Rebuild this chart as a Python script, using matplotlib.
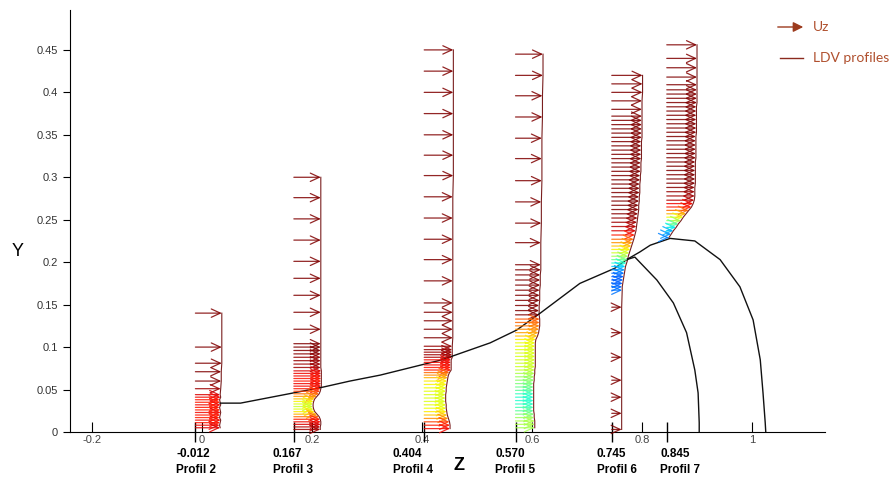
import matplotlib
matplotlib.use('Agg')
import numpy as np
import matplotlib.pyplot as plt
import matplotlib.transforms as mtransforms

plt.rcParams['font.family'] = ['Liberation Sans', 'DejaVu Sans']

# profile positions along Z
profile_z = [-0.012, 0.167, 0.404, 0.570, 0.745, 0.845]
profile_values = ['-0.012', '0.167', '0.404', '0.570', '0.745', '0.845']
profile_names = ['Profil 2', 'Profil 3', 'Profil 4', 'Profil 5', 'Profil 6', 'Profil 7']
label_left = [-0.047, 0.129, 0.347, 0.533, 0.718, 0.833]

# Profil 2
p2_y = [0.140, 0.100, 0.081, 0.071, 0.060, 0.051, 0.044, 0.041, 0.038, 0.035, 0.032, 0.029,
        0.026, 0.023, 0.020, 0.017, 0.014, 0.011, 0.008, 0.005]
p2_u = [0.048, 0.048, 0.048, 0.047, 0.047, 0.046, 0.045, 0.046, 0.044, 0.045, 0.046, 0.044,
        0.045, 0.046, 0.045, 0.044, 0.046, 0.045, 0.044, 0.045]
p2_c = [1.0, 1.0, 1.0, 1.0, 1.0, 0.97, 0.92, 0.9, 0.89, 0.88, 0.9, 0.89,
        0.88, 0.9, 0.89, 0.88, 0.9, 0.89, 0.9, 0.92]

# Profil 3
p3_y = [0.300, 0.276, 0.251, 0.226, 0.201, 0.181, 0.161, 0.141, 0.121,
        0.104, 0.100, 0.096, 0.092, 0.088, 0.084, 0.080, 0.076,
        0.072, 0.069, 0.066, 0.063, 0.060, 0.057, 0.054, 0.051, 0.048,
        0.045, 0.042, 0.039, 0.036, 0.033, 0.030, 0.027, 0.024, 0.021, 0.018,
        0.015, 0.012, 0.009, 0.006, 0.003]
p3_u = [0.049, 0.049, 0.049, 0.049, 0.049, 0.049, 0.049, 0.049, 0.049,
        0.049, 0.049, 0.049, 0.049, 0.049, 0.049, 0.049, 0.049,
        0.050, 0.050, 0.050, 0.050, 0.050, 0.050, 0.050, 0.049, 0.048,
        0.046, 0.042, 0.038, 0.036, 0.035, 0.035, 0.036, 0.038, 0.042, 0.046,
        0.048, 0.049, 0.049, 0.048, 0.048]
p3_c = [1.0, 1.0, 1.0, 1.0, 1.0, 1.0, 1.0, 1.0, 1.0,
        1.0, 1.0, 1.0, 0.99, 0.98, 0.98, 0.97, 0.97,
        0.92, 0.9, 0.9, 0.89, 0.89, 0.9, 0.9, 0.88, 0.85,
        0.8, 0.75, 0.7, 0.65, 0.62, 0.6, 0.62, 0.66, 0.72, 0.8,
        0.88, 0.9, 0.92, 0.95, 0.97]

# Profil 4
p4_y = [0.450, 0.425, 0.400, 0.375, 0.350, 0.326, 0.302, 0.277, 0.252, 0.227, 0.203, 0.178,
        0.152, 0.141, 0.131, 0.121, 0.111,
        0.101, 0.097, 0.094, 0.091, 0.088,
        0.085, 0.082, 0.079, 0.076, 0.073,
        0.070, 0.067, 0.064,
        0.060, 0.056, 0.052, 0.048, 0.044, 0.040, 0.036, 0.032, 0.028, 0.024, 0.020, 0.016,
        0.012, 0.008, 0.004]
p4_u = [0.053, 0.053, 0.053, 0.053, 0.053, 0.053, 0.053, 0.052, 0.052, 0.052, 0.052, 0.052,
        0.052, 0.052, 0.052, 0.052, 0.052,
        0.051, 0.051, 0.051, 0.051, 0.051,
        0.049, 0.049, 0.049, 0.049, 0.049,
        0.046, 0.044, 0.043,
        0.042, 0.041, 0.040, 0.040, 0.039, 0.039, 0.039, 0.040, 0.040, 0.041, 0.042, 0.044,
        0.046, 0.047, 0.047]
p4_c = [1.0, 1.0, 1.0, 1.0, 1.0, 1.0, 1.0, 1.0, 1.0, 1.0, 1.0, 1.0,
        1.0, 1.0, 1.0, 1.0, 1.0,
        0.98, 0.98, 0.97, 0.97, 0.96,
        0.9, 0.9, 0.9, 0.89, 0.88,
        0.8, 0.76, 0.72,
        0.66, 0.65, 0.64, 0.63, 0.62, 0.62, 0.62, 0.63, 0.64, 0.66, 0.7, 0.76,
        0.84, 0.88, 0.9]

# Profil 5
p5_y = [0.445, 0.420, 0.396, 0.371, 0.346, 0.322, 0.296, 0.271, 0.246, 0.223,
        0.197, 0.191, 0.185, 0.179, 0.173, 0.167, 0.161, 0.155, 0.149, 0.143, 0.138,
        0.133, 0.129, 0.125, 0.121, 0.117, 0.113,
        0.109, 0.105, 0.101, 0.097, 0.093, 0.089, 0.085, 0.081, 0.077, 0.073,
        0.069, 0.065, 0.061, 0.057, 0.053, 0.049,
        0.045, 0.041, 0.037, 0.033, 0.029, 0.025,
        0.021, 0.017, 0.013, 0.009, 0.005]
p5_u = [0.050, 0.050, 0.049, 0.049, 0.048, 0.048, 0.048, 0.047, 0.047, 0.046,
        0.046, 0.046, 0.045, 0.045, 0.045, 0.044, 0.044, 0.044, 0.043, 0.043, 0.043,
        0.044, 0.044, 0.044, 0.043, 0.042, 0.040,
        0.037, 0.036, 0.036, 0.036, 0.036, 0.036, 0.036, 0.036, 0.036, 0.035,
        0.035, 0.034, 0.034, 0.033, 0.033, 0.033,
        0.033, 0.033, 0.033, 0.033, 0.033, 0.033,
        0.034, 0.034, 0.035, 0.035, 0.035]
p5_c = [1.0, 1.0, 1.0, 1.0, 1.0, 1.0, 1.0, 1.0, 1.0, 1.0,
        1.0, 1.0, 1.0, 1.0, 1.0, 1.0, 1.0, 1.0, 1.0, 1.0, 1.0,
        0.82, 0.8, 0.78, 0.76, 0.74, 0.7,
        0.66, 0.64, 0.63, 0.62, 0.62, 0.61, 0.61, 0.6, 0.6, 0.59,
        0.56, 0.54, 0.52, 0.5, 0.48, 0.46,
        0.42, 0.4, 0.4, 0.41, 0.43, 0.46,
        0.5, 0.54, 0.56, 0.56, 0.55]

# Profil 6
p6_y = [0.420, 0.410, 0.400, 0.390, 0.380,
        0.372, 0.367, 0.362, 0.357, 0.352, 0.347, 0.342, 0.337, 0.332, 0.327,
        0.322, 0.317, 0.312, 0.307, 0.302, 0.297, 0.292, 0.287, 0.282, 0.277,
        0.272, 0.267, 0.262, 0.257, 0.252, 0.247, 0.242, 0.237, 0.232,
        0.227, 0.223, 0.219, 0.215, 0.211, 0.207, 0.203, 0.199, 0.195, 0.191,
        0.187, 0.183, 0.179, 0.175, 0.171, 0.167,
        0.147, 0.117, 0.088, 0.061, 0.041, 0.022, 0.003]
p6_u = [0.056, 0.056, 0.056, 0.055, 0.055,
        0.055, 0.055, 0.055, 0.055, 0.055, 0.055, 0.054, 0.054, 0.054, 0.054,
        0.054, 0.053, 0.053, 0.053, 0.052, 0.052, 0.051, 0.051, 0.051, 0.050,
        0.050, 0.049, 0.049, 0.048, 0.047, 0.046, 0.045, 0.044, 0.042,
        0.040, 0.038, 0.036, 0.034, 0.032, 0.030, 0.029, 0.027, 0.025, 0.024,
        0.023, 0.022, 0.021, 0.020, 0.019, 0.019,
        0.018, 0.018, 0.018, 0.018, 0.018, 0.018, 0.018]
p6_c = [1.0, 1.0, 1.0, 1.0, 1.0,
        1.0, 1.0, 1.0, 1.0, 1.0, 1.0, 1.0, 1.0, 1.0, 1.0,
        1.0, 1.0, 1.0, 1.0, 1.0, 1.0, 1.0, 1.0, 1.0, 1.0,
        1.0, 1.0, 1.0, 0.99, 0.98, 0.97, 0.95, 0.92, 0.88,
        0.8, 0.75, 0.7, 0.65, 0.6, 0.55, 0.48, 0.4, 0.33, 0.27,
        0.24, 0.22, 0.22, 0.22, 0.23, 0.24,
        1.0, 1.0, 1.0, 1.0, 1.0, 1.0, 1.0]

# Profil 7
p7_y = [0.456, 0.440, 0.429, 0.418, 0.409,
        0.403, 0.398, 0.393, 0.388, 0.383, 0.378, 0.373, 0.368, 0.363, 0.358,
        0.353, 0.348, 0.343, 0.338, 0.333, 0.328, 0.323, 0.318, 0.313, 0.308,
        0.303, 0.298, 0.293, 0.288, 0.283, 0.278, 0.273,
        0.269, 0.265, 0.261, 0.257, 0.253, 0.249, 0.245, 0.241, 0.237, 0.233, 0.229]
p7_u = [0.055, 0.055, 0.055, 0.055, 0.055,
        0.055, 0.055, 0.055, 0.055, 0.054, 0.054, 0.054, 0.054, 0.054, 0.054,
        0.054, 0.053, 0.053, 0.053, 0.053, 0.053, 0.053, 0.052, 0.052, 0.052,
        0.052, 0.052, 0.052, 0.051, 0.051, 0.051, 0.050,
        0.048, 0.045, 0.040, 0.035, 0.030, 0.026, 0.021, 0.017, 0.012, 0.008, 0.004]
p7_c = [1.0, 1.0, 1.0, 1.0, 1.0,
        1.0, 1.0, 1.0, 1.0, 1.0, 1.0, 1.0, 1.0, 1.0, 1.0,
        1.0, 1.0, 1.0, 1.0, 1.0, 1.0, 1.0, 1.0, 1.0, 1.0,
        1.0, 1.0, 1.0, 0.99, 0.98, 0.97, 0.95,
        0.9, 0.88, 0.8, 0.72, 0.64, 0.55, 0.45, 0.36, 0.3, 0.27, 0.25]

# black interface curves
curve_main_x = [0.033, 0.070, 0.166, 0.221, 0.269, 0.324, 0.436, 0.524, 0.572, 0.615, 0.687, 0.751, 0.772]
curve_main_y = [0.034, 0.034, 0.046, 0.053, 0.060, 0.067, 0.085, 0.105, 0.120, 0.140, 0.175, 0.193, 0.203]
curve_outer_x = [0.772, 0.796, 0.815, 0.851, 0.896, 0.942, 0.978, 1.002, 1.015, 1.020, 1.024, 1.025]
curve_outer_y = [0.203, 0.212, 0.220, 0.228, 0.225, 0.203, 0.171, 0.132, 0.085, 0.046, 0.011, 0.0]
curve_inner_x = [0.772, 0.787, 0.827, 0.857, 0.881, 0.896, 0.902, 0.904, 0.904]
curve_inner_y = [0.203, 0.206, 0.179, 0.152, 0.117, 0.073, 0.046, 0.011, 0.0]

xticks = [-0.2, 0, 0.2, 0.4, 0.6, 0.8, 1]
xticklabels = ['-0.2', '0', '0.2', '0.4', '0.6', '0.8', '1']
yticks = [0, 0.05, 0.1, 0.15, 0.2, 0.25, 0.3, 0.35, 0.4, 0.45]
yticklabels = ['0', '0.05', '0.1', '0.15', '0.2', '0.25', '0.3', '0.35', '0.4', '0.45']

profiles = [(p2_y, p2_u, p2_c), (p3_y, p3_u, p3_c), (p4_y, p4_u, p4_c),
            (p5_y, p5_u, p5_c), (p6_y, p6_u, p6_c), (p7_y, p7_u, p7_c)]

cmap = plt.cm.jet
fig = plt.figure(figsize=(8.91, 4.8), dpi=100)
ax = fig.add_axes([70 / 891, 48 / 480, 755 / 891, 422 / 480])
ax.set_xlim(-0.24, 1.1327)
ax.set_ylim(0, 0.497)

for z, (ys, us, cs) in zip(profile_z, profiles):
    for y, u, c in zip(ys, us, cs):
        ax.annotate('', xy=(z + u, y), xytext=(z, y),
                    arrowprops=dict(arrowstyle='->,head_length=0.65,head_width=0.3',
                                    color=cmap(c), alpha=0.85, lw=0.9,
                                    shrinkA=0, shrinkB=0, mutation_scale=10))
    ax.plot(np.array(us) + z, ys, color='#7a1f1f', lw=0.8)

ax.plot(curve_main_x, curve_main_y, color='#111111', lw=1.0)
ax.plot(curve_outer_x, curve_outer_y, color='#111111', lw=1.0)
ax.plot(curve_inner_x, curve_inner_y, color='#111111', lw=1.0)

for s in ['top', 'right']:
    ax.spines[s].set_visible(False)
ax.set_yticks(yticks)
ax.set_yticklabels(yticklabels)
ax.set_xticks(xticks)
ax.set_xticklabels(xticklabels)
ax.tick_params(axis='y', direction='out', length=5, labelsize=8, labelcolor='#333333')
ax.tick_params(axis='x', direction='in', length=7, labelsize=8, labelcolor='#444444', pad=2)
ax.set_xticks(profile_z, minor=True)
ax.tick_params(axis='x', which='minor', direction='inout', length=14, width=1)

trans = mtransforms.blended_transform_factory(ax.transData, ax.transAxes)
for xl, v, n in zip(label_left, profile_values, profile_names):
    ax.text(xl, -0.052, v, transform=trans, fontsize=8.5, fontweight='bold', ha='left', va='center')
    ax.text(xl, -0.090, n, transform=trans, fontsize=8.5, fontweight='bold', ha='left', va='center')

fig.text(459 / 891, 1 - 466 / 480, 'Z', fontsize=13, fontweight='bold', ha='center', va='center')
fig.text(18 / 891, 1 - 252 / 480, 'Y', fontsize=13, ha='center', va='center')

# legend
fig.patches.append(matplotlib.patches.FancyArrowPatch(
    (775 / 891, 1 - 27 / 480), (806 / 891, 1 - 27 / 480), transform=fig.transFigure,
    arrowstyle='-|>,head_length=0.5,head_width=0.25', mutation_scale=12, color='#9c3b1e', lw=1.0))
fig.lines.append(matplotlib.lines.Line2D([780 / 891, 803 / 891], [1 - 58 / 480, 1 - 58 / 480],
                                         transform=fig.transFigure, color='#8b2a1e', lw=1.0))
fig.text(813 / 891, 1 - 27 / 480, 'Uz', fontsize=10, color='#b0502e', family=['Lato', 'DejaVu Sans'],
         ha='left', va='center')
fig.text(813 / 891, 1 - 58 / 480, 'LDV profiles', fontsize=10, color='#b0502e',
         family=['Lato', 'DejaVu Sans'], ha='left', va='center')

fig.savefig('out.png', dpi=100)
